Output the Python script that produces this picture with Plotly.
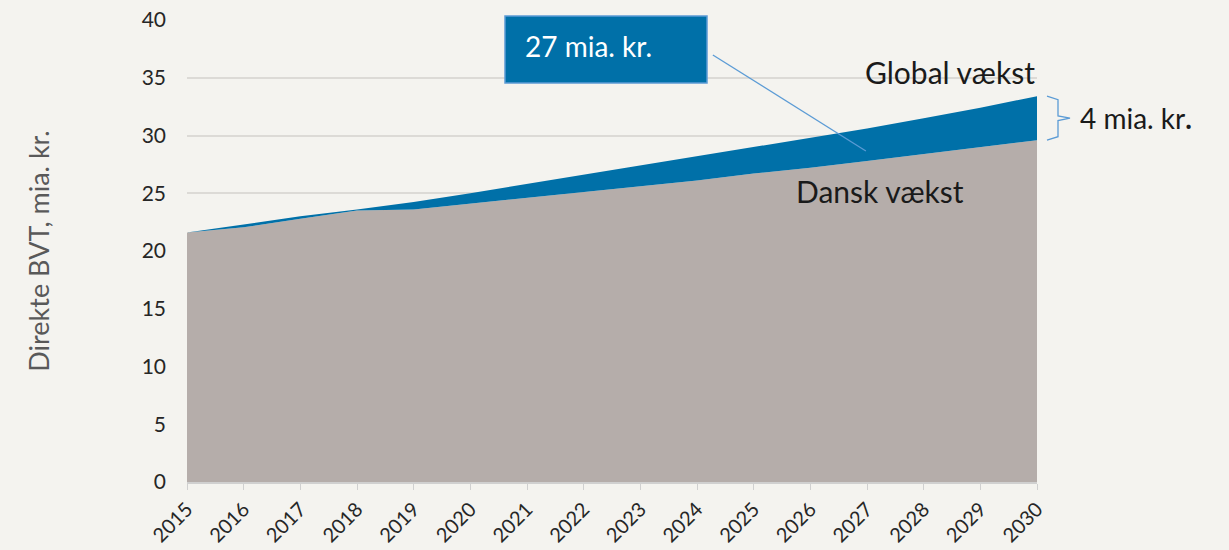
import plotly.graph_objects as go

years = list(range(2015, 2031))
dansk = [21.6, 22.05, 22.8, 23.5, 23.6, 24.1, 24.6, 25.1, 25.6, 26.1, 26.7, 27.2, 27.8, 28.4, 29.0, 29.6]
global_ = [21.6, 22.3, 23.0, 23.6, 24.25, 25.0, 25.8, 26.6, 27.4, 28.2, 29.0, 29.8, 30.6, 31.5, 32.4, 33.4]
y_ticks = [0, 5, 10, 15, 20, 25, 30, 35, 40]

BG = "#f4f3ef"
GREY = "#b5adaa"
BLUE = "#0070a8"
LIGHTBLUE = "#5b9bd5"
FONT = "Lato"

fig = go.Figure()
fig.add_trace(go.Scatter(x=years, y=dansk, mode="lines", line=dict(width=0, color=GREY),
                         fill="tozeroy", fillcolor=GREY, hoverinfo="skip", showlegend=False))
fig.add_trace(go.Scatter(x=years, y=global_, mode="lines", line=dict(width=0, color=BLUE),
                         fill="tonexty", fillcolor=BLUE, hoverinfo="skip", showlegend=False))

# body margin removed via post_script: figure coords = screen coords
W, H = 1229, 550
L, T = 187, 20
R = W - 1037
B = H - 482
pw, ph = W - L - R, H - T - B

def px(x):
    return (x - L) / pw

def py(y):
    return (H - B - y) / ph

# Label box
fig.add_shape(type="rect", xref="paper", yref="paper",
              x0=px(505), x1=px(707), y0=py(83), y1=py(16),
              fillcolor=BLUE, line=dict(color=LIGHTBLUE, width=1.5), layer="above")
fig.add_annotation(xref="paper", yref="paper", x=px(523), y=py(46), xanchor="left", yanchor="middle",
                   text="27 mia. kr.", showarrow=False, font=dict(family=FONT, size=28, color="white"))
# connector line
fig.add_shape(type="line", xref="x", yref="y", x0=2024.28, y0=36.97, x1=2026.98, y1=28.66,
              line=dict(color=LIGHTBLUE, width=1.3), layer="above")

fig.add_annotation(xref="x", yref="paper", x=2030, y=py(72), xanchor="right", yanchor="middle",
                   text="Global vækst", showarrow=False, font=dict(family=FONT, size=30, color="#1a1a1a"))
fig.add_annotation(xref="paper", yref="paper", x=px(794), y=py(191), xanchor="left", yanchor="middle",
                   text="Dansk vækst", showarrow=False, font=dict(family=FONT, size=30, color="#1a1a1a"))

# bracket
top, bot = global_[-1], dansk[-1]
mid = (top + bot) / 2
x0, x1, x2 = 1 + 10 / pw, 1 + 21 / pw, 1 + 33 / pw
fig.add_shape(type="path", xref="paper", yref="y",
              path=f"M {x0} {top} L {x1} {top - 0.3} L {x1} {mid + 0.2} L {x2} {mid} L {x1} {mid - 0.2} L {x1} {bot + 0.3} L {x0} {bot}",
              line=dict(color=LIGHTBLUE, width=1.3))
fig.add_annotation(xref="paper", yref="y", x=1 + 41 / pw, y=mid, xanchor="left", yanchor="middle",
                   text="4 mia. kr<b>.</b>", showarrow=False, font=dict(family=FONT, size=28, color="#1a1a1a"))

fig.update_layout(
    width=W, height=H,
    margin=dict(l=L, r=R, t=T, b=B, autoexpand=False),
    paper_bgcolor=BG, plot_bgcolor=BG,
    font=dict(family=FONT, color="#262626"),
    showlegend=False,
)
fig.update_xaxes(range=[2015, 2030], tickmode="array", tickvals=years, ticktext=[str(y) for y in years],
                 tickangle=-45, showgrid=False, showline=True, linecolor="#d0d0d0", linewidth=1.5,
                 ticks="outside", ticklen=6, tickcolor="#d0d0d0", tickfont=dict(size=20, color="#262626"),
                 zeroline=False, automargin=False, ticklabeloverflow="allow")
fig.update_yaxes(range=[0, 40.001], tickmode="array", tickvals=y_ticks, ticktext=[str(v) for v in y_ticks],
                 showgrid=True, gridcolor="#dcdad6", gridwidth=1.5, zeroline=False, showline=False,
                 tickfont=dict(size=21, color="#262626"), ticks="", ticklabelstandoff=20,
                 automargin=False, ticklabeloverflow="allow",
                 title=dict(text="Direkte BVT, mia. kr.", font=dict(size=27, color="#595959"), standoff=84))

fig.write_html("out.html", config={"displayModeBar": False},
               post_script="document.body.style.margin='0';document.body.style.background='%s';" % BG)
